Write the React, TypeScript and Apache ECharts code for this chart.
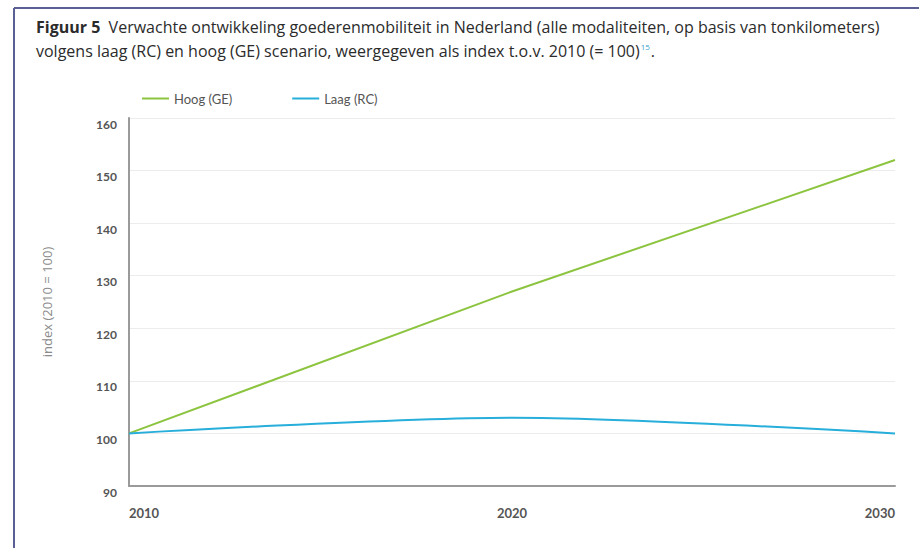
import React, { useEffect, useRef } from "react";
import * as echarts from "echarts";

// Index of freight mobility (2010 = 100)
const years: number[] = [2010, 2020, 2030];
const hoogGE: number[] = [100, 127, 152];
const laagRC: number[] = [100, 103, 100];
const yTicks: number[] = [90, 100, 110, 120, 130, 140, 150, 160];

const FONT = "Lato, 'Open Sans', sans-serif";
const TITLE_FONT = "'Open Sans', Lato, sans-serif";

export default function App() {
  const ref = useRef<HTMLDivElement>(null);

  useEffect(() => {
    if (!ref.current) return;
    const chart = echarts.init(ref.current, undefined, { renderer: "svg" });
    chart.setOption({
      animation: false,
      backgroundColor: "#ffffff",
      textStyle: { fontFamily: FONT },
      graphic: [
        {
          type: "line",
          shape: { x1: 14, y1: 8, x2: 919, y2: 8 },
          style: { stroke: "#5b6094", lineWidth: 2 },
        },
        {
          type: "line",
          shape: { x1: 14, y1: 8, x2: 14, y2: 548 },
          style: { stroke: "#5b6094", lineWidth: 2 },
        },
        {
          type: "text",
          left: 36,
          top: 15,
          style: {
            text:
              "{b|Figuur 5}  Verwachte ontwikkeling goederenmobiliteit in Nederland (alle modaliteiten, op basis van tonkilometers)\n" +
              "volgens laag (RC) en hoog (GE) scenario, weergegeven als index t.o.v. 2010 (= 100){s|15}.",
            fontFamily: TITLE_FONT,
            fontSize: 16,
            lineHeight: 24,
            fill: "#2b2b2b",
            rich: {
              b: { fontWeight: "bold", fontSize: 16, fontFamily: TITLE_FONT, fill: "#2b2b2b" },
              s: { fontSize: 8, lineHeight: 8, fontFamily: TITLE_FONT, fill: "#3aa0d0", padding: [0, 1, 9, 1] },
            },
          },
        },
      ],
      legend: {
        left: 137,
        top: 87,
        icon: "rect",
        itemWidth: 27,
        itemHeight: 2,
        itemGap: 60,
        textStyle: { color: "#555", fontSize: 13, fontFamily: FONT },
        data: ["Hoog (GE)", "Laag (RC)"],
      },
      grid: { left: 129, right: 24, top: 118, bottom: 62 },
      xAxis: {
        type: "value",
        min: years[0],
        max: years[years.length - 1],
        interval: 10,
        axisLine: { show: true, lineStyle: { color: "#9a9a9a", width: 2 } },
        axisTick: { show: false },
        splitLine: { show: false },
        axisLabel: {
          color: "#555",
          fontSize: 13,
          fontWeight: "bold",
          fontFamily: FONT,
          margin: 20,
          alignMinLabel: "left",
          alignMaxLabel: "right",
          formatter: (v: number) => String(v),
        },
      },
      yAxis: {
        type: "value",
        min: yTicks[0],
        max: yTicks[yTicks.length - 1],
        interval: 10,
        name: "index (2010 = 100)",
        nameLocation: "middle",
        nameGap: 76,
        nameRotate: 90,
        nameTextStyle: { color: "#8a8a8a", fontSize: 13, fontFamily: TITLE_FONT },
        axisLine: { show: true, lineStyle: { color: "#9a9a9a", width: 2 } },
        axisTick: { show: false },
        splitLine: { show: true, lineStyle: { color: "#ececec", width: 1 } },
        axisLabel: {
          color: "#555",
          fontSize: 12,
          fontWeight: "bold",
          fontFamily: FONT,
          margin: 12,
          verticalAlign: "top",
        },
      },
      series: [
        {
          name: "Hoog (GE)",
          type: "line",
          symbol: "none",
          color: "#8cc43f",
          lineStyle: { width: 2, color: "#8cc43f" },
          data: years.map((y, i) => [y, hoogGE[i]]),
          z: 2,
        },
        {
          name: "Laag (RC)",
          type: "line",
          symbol: "none",
          smooth: 0.3,
          color: "#27aedb",
          lineStyle: { width: 2, color: "#27aedb" },
          data: years.map((y, i) => [y, laagRC[i]]),
          z: 3,
        },
      ],
    });
    return () => chart.dispose();
  }, []);

  return (
    <div
      ref={ref}
      style={{ position: "absolute", left: 0, top: 0, width: 919, height: 548 }}
    />
  );
}
